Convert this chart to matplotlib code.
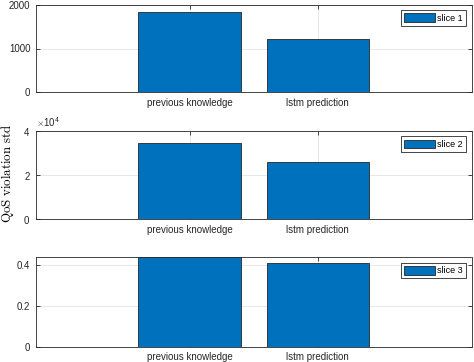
import matplotlib
matplotlib.use("Agg")
import matplotlib.pyplot as plt
from matplotlib.ticker import ScalarFormatter, FuncFormatter

# data
categories = ["previous knowledge", "lstm prediction"]
positions = [1, 2]
slice1 = [1826, 1224]
slice2 = [34460, 25700]
slice3 = [0.436, 0.407]
slice_names = ["slice 1", "slice 2", "slice 3"]
ylims = [(0, 2000), (0, 40000), (0, 0.436)]
yticks = [[0, 1000, 2000], [0, 20000, 40000], [0, 0.2, 0.4]]

bar_color = "#0072BD"
axis_color = "#262626"

plt.rcParams["font.family"] = ["Liberation Sans", "DejaVu Sans"]
plt.rcParams["mathtext.fontset"] = "cm"

fig = plt.figure(figsize=(4.74, 3.62), dpi=100)

# axes boxes measured in pixels: (top, bottom)
left = 36 / 474
width = 435.5 / 474
boxes = [(4.7, 92.3), (131, 219), (257.3, 346.7)]

all_values = [slice1, slice2, slice3]
for i, values in enumerate(all_values):
    top, bottom = boxes[i]
    ax = fig.add_axes([left, 1 - bottom / 362, width, (bottom - top) / 362])
    ax.bar(positions, values, width=0.8, color=bar_color, edgecolor=axis_color,
           linewidth=0.6, label=slice_names[i], zorder=3)
    ax.set_xlim(-0.2, 3.2)
    ax.set_ylim(*ylims[i])
    ax.set_xticks(positions)
    ax.set_xticklabels(categories)
    ax.set_yticks(yticks[i])
    ax.yaxis.set_major_formatter(FuncFormatter(lambda v, p: f"{v:g}"))
    ax.grid(True, color="#e3e3e3", linewidth=0.6, zorder=0)
    ax.tick_params(direction="in", length=3, width=0.6, top=True, right=True,
                   labelsize=7, colors=axis_color, labelcolor=axis_color, pad=4)
    for sp in ax.spines.values():
        sp.set_color(axis_color)
        sp.set_linewidth(0.6)
    if i == 1:
        fmt = ScalarFormatter(useMathText=True)
        fmt.set_powerlimits((0, 0))
        ax.yaxis.set_major_formatter(fmt)
        ax.yaxis.get_offset_text().set_fontsize(7)
        ax.yaxis.get_offset_text().set_color(axis_color)
        ax.set_ylabel(r"$\mathrm{QoS\ violation\ std}$", fontsize=9.3)
        ax.yaxis.set_label_coords(-0.047, 0.52)
    leg = ax.legend(loc="upper right", fontsize=6.5, handlelength=3.4, handleheight=1.1,
                    borderpad=0.35, handletextpad=0.3, borderaxespad=0.6,
                    fancybox=False, framealpha=1)
    leg.get_frame().set_edgecolor(axis_color)
    leg.get_frame().set_linewidth(0.6)

fig.savefig("out.png", dpi=100)
